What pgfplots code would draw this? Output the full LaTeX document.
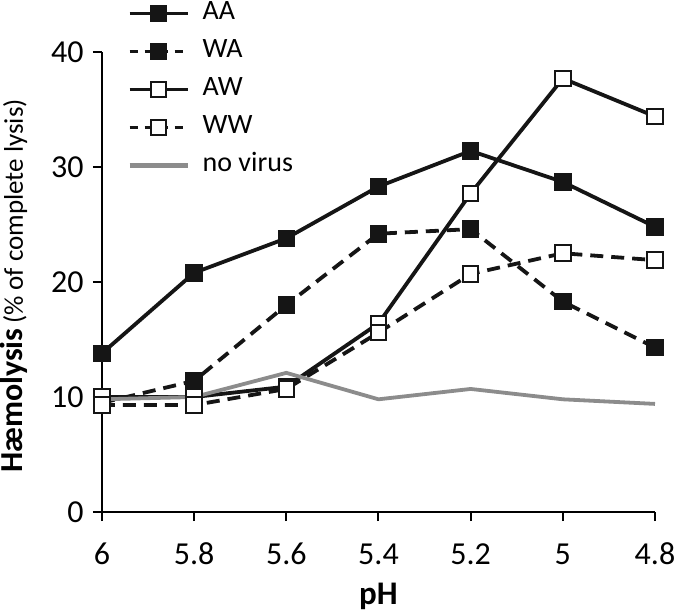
\documentclass[border=0pt]{standalone}
\usepackage{pgfplots}
\pgfplotsset{compat=1.18}
\usepackage{fontspec}
\setmainfont{Carlito}
\definecolor{novir}{HTML}{8C8C8C}
\definecolor{mk}{HTML}{151515}
\begin{document}
\begin{tikzpicture}
\begin{axis}[
  name=ax,
  scale only axis,
  width=276.5pt, height=230pt,
  xmin=4.8, xmax=6, x dir=reverse,
  ymin=0, ymax=40,
  xtick={6,5.8,5.6,5.4,5.2,5,4.8},
  xticklabels={6,5.8,5.6,5.4,5.2,5,4.8},
  ytick={0,10,20,30,40},
  axis lines*=left,
  axis line style={line width=1pt, -},
  tick style={line width=1pt, black},
  tick align=outside,
  major tick length=4.5pt,
  /pgf/number format/assume math mode=true,
  ticklabel style={font=\fontsize{16}{18}\selectfont},
  xticklabel style={anchor=base, yshift=-21.5pt},
  yticklabel style={anchor=east, xshift=-1.2pt},
  xlabel={\textbf{pH}},
  xlabel style={at={(axis description cs:0.5,0)}, anchor=base, yshift=-46pt, font=\fontsize{16.5}{18}\selectfont},
  ylabel={{\fontsize{16}{18}\selectfont\textbf{Hæmolysis}} {\fontsize{13.5}{15}\selectfont(\% of complete lysis)}},
  ylabel style={at={(axis description cs:0,0.5)}, anchor=base, yshift=39.5pt, xshift=-2pt},
  legend cell align=left,
  legend style={at={(axis description cs:0.045,1.114)}, anchor=north west,
    draw=none, fill=none, font=\fontsize{14}{16}\selectfont,
    row sep=5.5pt, column sep=4.3pt, inner sep=0pt,
    nodes={text height=10pt, text depth=3.5pt, inner ysep=0pt}},
  legend image code/.code={\draw[mark repeat=2,mark phase=2,#1] plot coordinates {(0pt,0pt)(14.5pt,0pt)(29pt,0pt)};},
  clip=false,
]
\addlegendimage{mk, line width=1.1pt, mark=square*, mark size=3.9pt, mark options={solid, fill=mk, line width=1pt}}
\addlegendentry{AA}
\addlegendimage{mk, line width=1.1pt, dash pattern=on 4pt off 3.5pt, mark=square*, mark size=3.9pt, mark options={solid, fill=mk, line width=1pt}}
\addlegendentry{WA}
\addlegendimage{mk, line width=1.1pt, mark=square*, mark size=3.9pt, mark options={solid, fill=white, line width=1pt}}
\addlegendentry{AW}
\addlegendimage{mk, line width=1.1pt, dash pattern=on 4pt off 3.5pt, mark=square*, mark size=3.9pt, mark options={solid, fill=white, line width=1pt}}
\addlegendentry{WW}
\addlegendimage{novir, line width=2.4pt}
\addlegendentry{no virus}
\addplot[mk, line width=1.9pt, mark=square*, mark size=3.9pt, mark options={solid, fill=mk, line width=1pt}, forget plot] coordinates {
  (6,13.8) (5.8,20.8) (5.6,23.8) (5.4,28.3) (5.2,31.4) (5,28.7) (4.8,24.8)};
\addplot[mk, line width=1.9pt, dash pattern=on 6.5pt off 4pt, mark=square*, mark size=3.9pt, mark options={solid, fill=mk, line width=1pt}, forget plot] coordinates {
  (6,9.5) (5.8,11.4) (5.6,18.0) (5.4,24.2) (5.2,24.6) (5,18.3) (4.8,14.3)};
\addplot[mk, line width=1.9pt, mark=square*, mark size=3.9pt, mark options={solid, fill=white, line width=1pt}, forget plot] coordinates {
  (6,10.0) (5.8,10.0) (5.6,10.9) (5.4,16.4) (5.2,27.7) (5,37.7) (4.8,34.4)};
\addplot[mk, line width=1.9pt, dash pattern=on 6.5pt off 4pt, mark=square*, mark size=3.9pt, mark options={solid, fill=white, line width=1pt}, forget plot] coordinates {
  (6,9.3) (5.8,9.3) (5.6,10.7) (5.4,15.6) (5.2,20.7) (5,22.5) (4.8,21.9)};
\addplot[novir, line width=1.9pt, forget plot] coordinates {
  (6,9.8) (5.8,10.0) (5.6,12.1) (5.4,9.8) (5.2,10.7) (5,9.8) (4.8,9.4)};
\end{axis}
\pgfresetboundingbox
\path[use as bounding box] ([xshift=-51pt,yshift=-50pt]ax.south west) rectangle ([xshift=9.5pt,yshift=26pt]ax.north east);
\end{tikzpicture}
\end{document}
